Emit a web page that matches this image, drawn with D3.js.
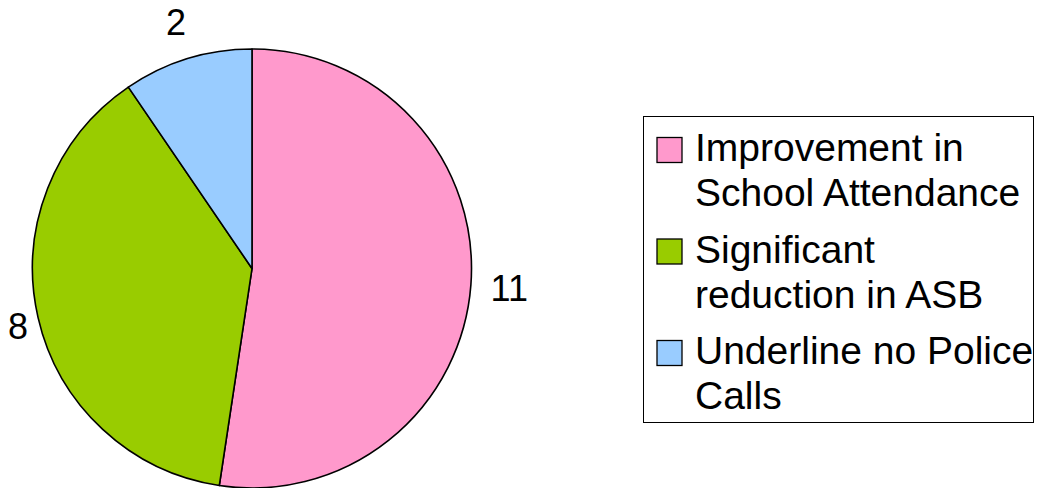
<!DOCTYPE html>
<html>
<head>
<meta charset="utf-8">
<script src="https://cdn.jsdelivr.net/npm/d3@7"></script>
<style>
  html, body { margin: 0; padding: 0; background: #fff; }
  svg { display: block; }
  text { font-family: "Liberation Sans", Arial, sans-serif; fill: #000; }
</style>
</head>
<body>
<svg id="chart" width="1037" height="488"></svg>
<script>
// Outcome counts
const categories = ["Improvement in School Attendance", "Significant reduction in ASB", "Underline no Police Calls"];
const legendLines = [["Improvement in", "School Attendance"], ["Significant", "reduction in ASB"], ["Underline no Police", "Calls"]];
const values = [11, 8, 2];
const colors = ["#ff99cc", "#99cc00", "#99ccff"];

const svg = d3.select("#chart");
const W = 1037, H = 488;
const cx = 252, cy = 268.5, r = 219.5;

const color = d3.scaleOrdinal().domain(categories).range(colors);

const pie = d3.pie().sort(null).value(d => d.value);
const data = pie(categories.map((c, i) => ({ name: c, value: values[i] })));

const arc = d3.arc().innerRadius(0).outerRadius(r);
const labelArc = d3.arc().innerRadius(258).outerRadius(258);

const g = svg.append("g").attr("transform", `translate(${cx},${cy})`);

g.selectAll("path.slice")
  .data(data)
  .join("path")
  .attr("class", "slice")
  .attr("d", arc)
  .attr("fill", d => color(d.data.name))
  .attr("stroke", "#000")
  .attr("stroke-width", 1.6)
  .attr("stroke-linejoin", "round");

// Value labels outside the pie, kept inside the drawing area
const margin = 8;
g.selectAll("text.val")
  .data(data)
  .join("text")
  .attr("class", "val")
  .attr("text-anchor", "middle")
  .attr("dy", "0.36em")
  .style("font-size", "36px")
  .text(d => d.data.value)
  .each(function (d) {
    const [x, y] = labelArc.centroid(d);
    const half = this.getComputedTextLength() / 2;
    const minX = margin + half - cx;
    const maxX = W - margin - half - cx;
    d3.select(this).attr("transform", `translate(${Math.max(minX, Math.min(maxX, x))},${y})`);
  });

// Legend
const lg = svg.append("g");
lg.append("rect")
  .attr("x", 643.5).attr("y", 116.5)
  .attr("width", 390).attr("height", 306)
  .attr("fill", "#fff").attr("stroke", "#000").attr("stroke-width", 1);

const items = lg.selectAll("g.item")
  .data(categories)
  .join("g")
  .attr("class", "item")
  .attr("transform", (d, i) => `translate(0,${i * 101.5})`);

items.append("rect")
  .attr("x", 657).attr("y", 137.5)
  .attr("width", 25).attr("height", 25)
  .attr("fill", d => color(d))
  .attr("stroke", "#000").attr("stroke-width", 1.3);

items.each(function (d, i) {
  const t = d3.select(this).append("text")
    .attr("x", 695).attr("y", 161)
    .style("font-size", "39px");
  legendLines[i].forEach((line, j) => {
    t.append("tspan").attr("x", 695).attr("y", 161 + j * 45).text(line);
  });
});
</script>
</body>
</html>
